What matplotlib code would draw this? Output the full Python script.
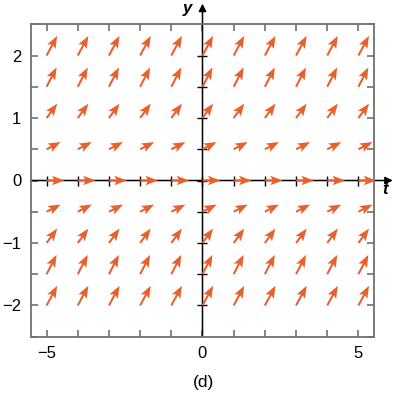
import numpy as np
import matplotlib.pyplot as plt
from matplotlib.ticker import MultipleLocator

plt.rcParams['font.family'] = ['Liberation Sans', 'DejaVu Sans']

# grid of tail points
t_vals = [-5, -4, -3, -2, -1, 0, 1, 2, 3, 4, 5]
y_vals = [-2, -1.5, -1, -0.5, 0, 0.5, 1, 1.5, 2]
# arrow components per row (data units)
row_dt = [0.34, 0.32, 0.34, 0.45, 0.57, 0.45, 0.34, 0.32, 0.34]
row_dy = [0.315, 0.31, 0.23, 0.115, 0.0, 0.115, 0.23, 0.31, 0.315]

x_ticks = [-5, 0, 5]
y_ticks = [-2, -1, 0, 1, 2]

orange = '#E8612C'
gray = '#707070'

fig = plt.figure(figsize=(4.05, 3.96), dpi=100)
ax = fig.add_axes([31/405, 59.3/396, 343/405, 312.4/396])

T, Y = np.meshgrid(t_vals, y_vals)
U = np.tile(np.array(row_dt)[:, None], (1, len(t_vals)))
V = np.tile(np.array(row_dy)[:, None], (1, len(t_vals)))
ax.quiver(T, Y, U, V, angles='xy', scale_units='xy', scale=1, pivot='tail',
          color=orange, width=0.006, headwidth=4.6, headlength=6.0,
          headaxislength=5.0, zorder=3)

ax.set_xlim(-5.5, 5.5)
ax.set_ylim(-2.5, 2.5)

# frame
for s in ax.spines.values():
    s.set_color(gray)
    s.set_linewidth(1.3)
ax.xaxis.set_major_locator(MultipleLocator(5))
ax.xaxis.set_minor_locator(MultipleLocator(1))
ax.yaxis.set_major_locator(MultipleLocator(1))
ax.yaxis.set_minor_locator(MultipleLocator(0.5))
ax.tick_params(which='both', direction='in', top=True, right=True,
               color=gray, width=1.2, labelsize=12)
ax.tick_params(which='major', length=5)
ax.tick_params(which='minor', length=5)
ax.tick_params(axis='x', pad=7)
ax.tick_params(axis='y', pad=7)
ax.set_xticks(x_ticks)
ax.set_yticks(y_ticks)

# axes through the origin with arrows
ax.annotate('', xy=(0, 2.83), xytext=(0, -2.5),
            arrowprops=dict(arrowstyle='-|>', color='black', lw=1.1,
                            mutation_scale=11, shrinkA=0, shrinkB=0),
            annotation_clip=False, zorder=2)
ax.annotate('', xy=(6.1, 0), xytext=(-5.5, 0),
            arrowprops=dict(arrowstyle='-|>', color='black', lw=1.1,
                            mutation_scale=11, shrinkA=0, shrinkB=0),
            annotation_clip=False, zorder=2)
ax.plot(t_vals, [0]*len(t_vals), ls='none', marker='|', ms=7, mew=1.0,
        color='black', zorder=2)
ax.plot([0]*len(y_vals), y_vals, ls='none', marker='_', ms=7, mew=1.0,
        color='black', zorder=2)

ax.text(-0.5, 2.76, 'y', fontsize=12, fontweight='bold', style='italic',
        ha='center', va='center', clip_on=False)
ax.text(5.85, -0.15, 't', fontsize=12, fontweight='bold', style='italic',
        ha='center', va='center', clip_on=False)

fig.text(203/405, 1 - 382/396, '(d)', fontsize=12.5, ha='center', va='center')

fig.savefig('out.png', dpi=100)
